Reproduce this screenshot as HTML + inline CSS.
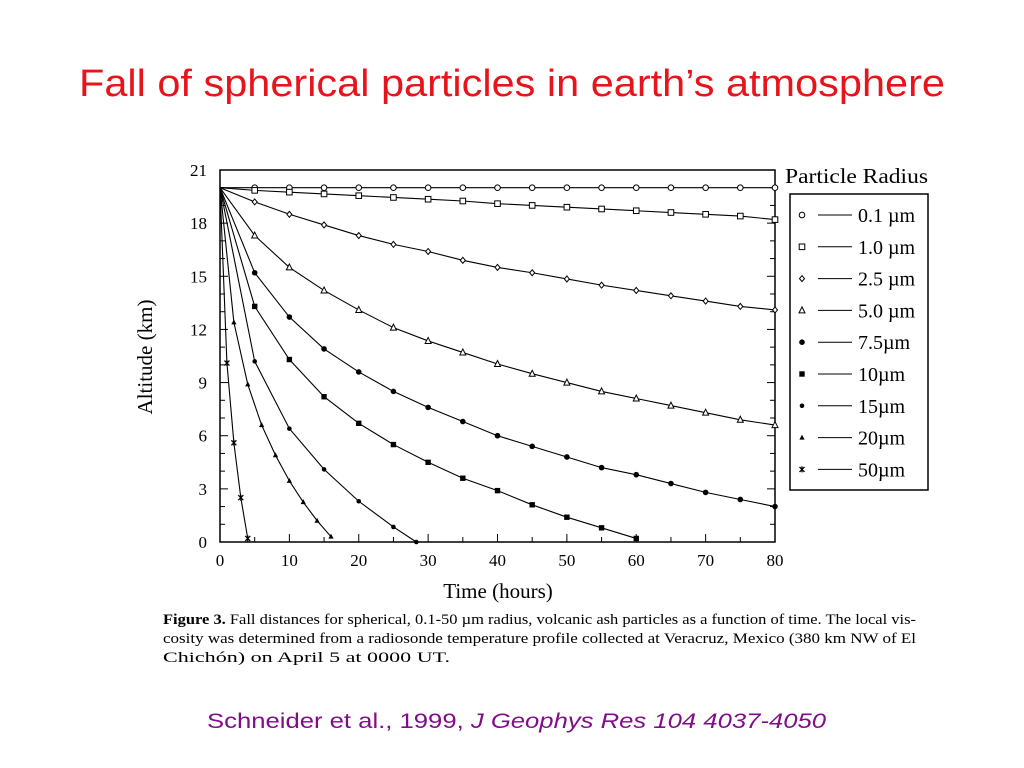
<!DOCTYPE html>
<html><head><meta charset="utf-8"><style>
html,body{margin:0;padding:0;background:#fff;}
svg{display:block;}
</style></head><body>
<svg id="chart" width="1024" height="768" viewBox="0 0 1024 768" xmlns="http://www.w3.org/2000/svg">
<text x="512" y="96" text-anchor="middle" font-family="Liberation Sans, sans-serif" font-size="38" fill="#e8141b" textLength="866" lengthAdjust="spacingAndGlyphs">Fall of spherical particles in earth’s atmosphere</text>
<g id="plot"></g>
<text x="785" y="183" font-family="Liberation Serif, serif" font-size="21" textLength="143" lengthAdjust="spacingAndGlyphs">Particle Radius</text>
<rect x="790" y="194" width="138" height="296" fill="none" stroke="#000" stroke-width="1.5"/>
<g id="legend"></g>
<text transform="translate(152,357) rotate(-90)" text-anchor="middle" font-family="Liberation Serif, serif" font-size="21">Altitude (km)</text>
<text x="498" y="598" text-anchor="middle" font-family="Liberation Serif, serif" font-size="21">Time (hours)</text>
<g font-family="Liberation Serif, serif" font-size="15">
<text x="163" y="624" textLength="753" lengthAdjust="spacingAndGlyphs"><tspan font-weight="bold">Figure 3.</tspan> Fall distances for spherical, 0.1-50 µm radius, volcanic ash particles as a function of time. The local vis-</text>
<text x="163" y="643" textLength="753" lengthAdjust="spacingAndGlyphs">cosity was determined from a radiosonde temperature profile collected at Veracruz, Mexico (380 km NW of El</text>
<text x="163" y="662" textLength="287" lengthAdjust="spacingAndGlyphs" font-size="15">Chichón) on April 5 at 0000 UT.</text>
</g>
<text x="207" y="728" font-family="Liberation Sans, sans-serif" font-size="21" fill="#800d8a" textLength="619" lengthAdjust="spacingAndGlyphs">Schneider et al., 1999, <tspan font-style="italic">J Geophys Res 104 4037-4050</tspan></text>
</svg>
<script>
const seriesNames = ["0.1 µm","1.0 µm","2.5 µm","5.0 µm","7.5µm","10µm","15µm","20µm","50µm"];
const markers = ["circle","square","diamond","triangle","dot","fsquare","sdot","ftriangle","star"];
const t5 = [0,5,10,15,20,25,30,35,40,45,50,55,60,65,70,75,80];
const r01 = [20,20,20,20,20,20,20,20,20,20,20,20,20,20,20,20,20];
const r10 = [20,19.85,19.75,19.65,19.55,19.45,19.35,19.25,19.1,19.0,18.9,18.8,18.7,18.6,18.5,18.4,18.2];
const r25 = [20,19.2,18.5,17.9,17.3,16.8,16.4,15.9,15.5,15.2,14.85,14.5,14.2,13.9,13.6,13.3,13.1];
const r50 = [20,17.3,15.5,14.2,13.1,12.1,11.35,10.7,10.05,9.5,9.0,8.5,8.1,7.7,7.3,6.9,6.6];
const r75 = [20,15.2,12.7,10.9,9.6,8.5,7.6,6.8,6.0,5.4,4.8,4.2,3.8,3.3,2.8,2.4,2.0];
const t10 = [0,5,10,15,20,25,30,35,40,45,50,55,60];
const r100 = [20,13.3,10.3,8.2,6.7,5.5,4.5,3.6,2.9,2.1,1.4,0.8,0.2];
const t15 = [0,5,10,15,20,25,28.3];
const r150 = [20,10.2,6.4,4.1,2.3,0.85,0];
const t20 = [0,2,4,6,8,10,12,14,16];
const r200 = [20,12.4,8.9,6.6,4.9,3.45,2.25,1.2,0.3];
const t50 = [0,1,2,3,4];
const r500 = [20,10.1,5.6,2.5,0.2];
const xTicks = [0,10,20,30,40,50,60,70,80];
const yTicks = [0,3,6,9,12,15,18,21];

const X0=220,X1=775,Y0=542,Y1=170;
const xs = t => X0 + t/80*(X1-X0);
const ys = v => Y0 - v/21*(Y0-Y1);
const NS="http://www.w3.org/2000/svg";
const plot=document.getElementById('plot');
function mk(tag,attrs,parent){const e=document.createElementNS(NS,tag);for(const k in attrs)e.setAttribute(k,attrs[k]);parent.appendChild(e);return e;}

const frame=mk('rect',{x:X0,y:Y1,width:X1-X0,height:Y0-Y1,fill:'none',stroke:'#000','stroke-width':1.5},plot);


for(let v=0;v<=21;v++){
  const len=(v%3===0)?8:5;
  const a=mk('line',{x1:X0,x2:X0+len,y1:ys(v),y2:ys(v),stroke:'#000'},plot);
  
  
  const b=mk('line',{x1:X1,x2:X1-len,y1:ys(v),y2:ys(v),stroke:'#000'},plot);
  
  
}
for(let t=0;t<=80;t+=5){
  const len=(t%10===0)?8:5;
  const a=mk('line',{x1:xs(t),x2:xs(t),y1:Y0,y2:Y0-len,stroke:'#000'},plot);
  
  
}
yTicks.forEach(v=>{
  const e=mk('text',{x:207,y:ys(v)+6,'text-anchor':'end','font-family':'Liberation Serif, serif','font-size':17},plot);
  e.textContent=v;
  
  
});
xTicks.forEach(t=>{
  const e=mk('text',{x:xs(t),y:566,'text-anchor':'middle','font-family':'Liberation Serif, serif','font-size':17},plot);
  e.textContent=t;
  
  
});

function marker(type,x,y,g){
  let e;
  if(type==='circle') e=mk('circle',{cx:x,cy:y,r:2.8,fill:'#fff',stroke:'#000','stroke-width':1},g);
  else if(type==='square') e=mk('rect',{x:x-2.8,y:y-2.8,width:5.6,height:5.6,fill:'#fff',stroke:'#000','stroke-width':1},g);
  else if(type==='diamond') e=mk('polygon',{points:`${x},${y-3} ${x+2.5},${y} ${x},${y+3} ${x-2.5},${y}`,fill:'#fff',stroke:'#000','stroke-width':1},g);
  else if(type==='triangle') e=mk('polygon',{points:`${x},${y-3.5} ${x+3},${y+2.5} ${x-3},${y+2.5}`,fill:'#fff',stroke:'#000','stroke-width':1},g);
  else if(type==='dot') e=mk('circle',{cx:x,cy:y,r:2.8,fill:'#000'},g);
  else if(type==='fsquare') e=mk('rect',{x:x-2.7,y:y-2.7,width:5.4,height:5.4,fill:'#000'},g);
  else if(type==='sdot') e=mk('circle',{cx:x,cy:y,r:2.3,fill:'#000'},g);
  else if(type==='ftriangle') e=mk('polygon',{points:`${x},${y-3} ${x+2.6},${y+2} ${x-2.6},${y+2}`,fill:'#000'},g);
  else e=mk('path',{d:`M${x-2.5},${y-2.5}L${x+2.5},${y+2.5}M${x+2.5},${y-2.5}L${x-2.5},${y+2.5}M${x},${y-3}L${x},${y+3}`,stroke:'#000','stroke-width':1.3},g);
  
  
}
const allSeries=[[t5,r01],[t5,r10],[t5,r25],[t5,r50],[t5,r75],[t10,r100],[t15,r150],[t20,r200],[t50,r500]];
allSeries.forEach(([tt,vv],i)=>{
  const g=mk('g',{},plot);
  
  
  const pl=mk('polyline',{points:tt.map((t,j)=>xs(t)+','+ys(vv[j])).join(' '),fill:'none',stroke:'#000','stroke-width':1.1},g);
  
  
  tt.forEach((t,j)=>{ if(j>0) marker(markers[i],xs(t),ys(vv[j]),g); });
});

const leg=document.getElementById('legend');
seriesNames.forEach((n,i)=>{
  const y=215+i*31.8;
  const g=mk('g',{},leg);
  
  
  marker(markers[i],802,y,g);
  mk('line',{x1:818,x2:852,y1:y,y2:y,stroke:'#000','stroke-width':1},g);
  const t=mk('text',{x:858,y:y+7,'font-family':'Liberation Serif, serif','font-size':20},g);
  t.textContent=n;
});
</script>
</body></html>
